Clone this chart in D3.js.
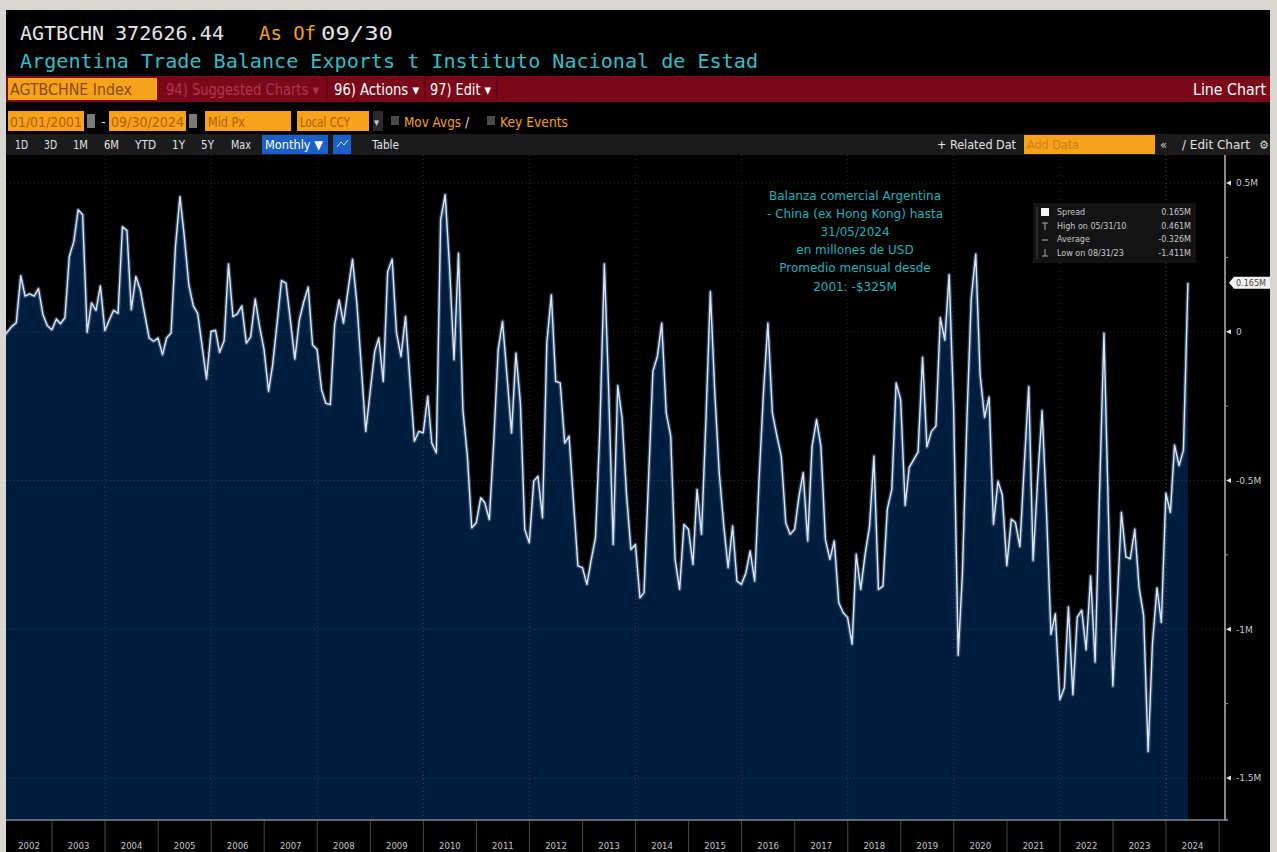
<!DOCTYPE html>
<html lang='en'>
<head>
<meta charset='UTF-8'>
<title>AGTBCHN Index - Line Chart</title>
<style>
  html, body { margin: 0; padding: 0; background: #d9d7d2; }
  svg { display: block; }
  .mono { font-family: 'DejaVu Sans Mono', 'Liberation Mono', monospace; }
  .ui { font-family: 'Liberation Sans Narrow', 'DejaVu Sans Condensed', 'Liberation Sans', sans-serif; font-stretch: condensed; }
  .note { font-family: 'DejaVu Sans', Verdana, sans-serif; font-size: 12px; fill: #1fb0b8; }
  .axis path, .axis line { display: none; }
  .axis text { font-family: 'DejaVu Sans', sans-serif; font-size: 9px; fill: #c9c9c9; }
</style>
<script src="https://d3js.org/d3.v7.min.js"></script>
</head>
<body>
<script>

// monthly trade balance Argentina - China, USD millions (shown as M), Jan 2002 .. May 2024
var startYear = 2002;
var balance = [
  -0.020, 0.000, 0.018, 0.030, 0.188, 0.120, 0.127, 0.120, 0.145, 0.057, 0.020, 0.007,       // 2002
  0.043, 0.027, 0.047, 0.253, 0.303, 0.410, 0.393, -0.002, 0.097, 0.072, 0.154, 0.004,      // 2003
  0.040, 0.072, 0.062, 0.353, 0.340, 0.074, 0.186, 0.141, 0.060, -0.021, -0.032, -0.021,     // 2004
  -0.077, -0.021, -0.004, 0.286, 0.454, 0.320, 0.158, 0.087, 0.062, -0.050, -0.159, 0.001,  // 2005
  0.005, -0.069, -0.030, 0.228, 0.051, 0.060, 0.087, -0.038, -0.017, 0.110, 0.018, -0.060,  // 2006
  -0.200, -0.111, 0.030, 0.172, 0.163, 0.040, -0.092, 0.040, 0.100, 0.150, -0.044, -0.060,  // 2007
  -0.195, -0.240, -0.245, 0.023, 0.107, 0.029, 0.140, 0.244, 0.096, -0.120, -0.335, -0.200, // 2008
  -0.066, -0.021, -0.167, 0.202, 0.244, -0.004, -0.083, 0.051, -0.160, -0.368, -0.335, -0.340, // 2009
  -0.217, -0.374, -0.407, 0.376, 0.461, 0.219, -0.094, 0.264, -0.262, -0.418, -0.659, -0.642, // 2010
  -0.558, -0.575, -0.631, -0.374, -0.060, 0.035, -0.150, -0.340, -0.072, -0.240, -0.664, -0.709, // 2011
  -0.502, -0.486, -0.625, -0.038, 0.124, -0.167, -0.172, -0.374, -0.351, -0.575, -0.787, -0.793, // 2012
  -0.849, -0.770, -0.692, -0.329, 0.228, -0.200, -0.715, -0.181, -0.290, -0.550, -0.732, -0.715, // 2013
  -0.894, -0.877, -0.500, -0.133, -0.083, 0.029, -0.273, -0.351, -0.765, -0.866, -0.648, -0.664, // 2014
  -0.782, -0.530, -0.681, -0.300, 0.135, -0.200, -0.474, -0.650, -0.793, -0.653, -0.838, -0.849, // 2015
  -0.810, -0.737, -0.838, -0.500, -0.200, 0.029, -0.273, -0.350, -0.418, -0.642, -0.681, -0.664, // 2016
  -0.550, -0.474, -0.703, -0.385, -0.295, -0.385, -0.698, -0.765, -0.703, -0.911, -0.944, -0.961, // 2017
  -1.050, -0.748, -0.866, -0.750, -0.653, -0.418, -0.866, -0.855, -0.597, -0.530, -0.172, -0.228, // 2018
  -0.584, -0.456, -0.430, -0.404, -0.086, -0.387, -0.335, -0.317, 0.047, -0.028, 0.192, -0.259,  // 2019
  -1.087, -0.815, -0.300, 0.111, 0.261, -0.144, -0.288, -0.219, -0.647, -0.502, -0.549, -0.786,  // 2020
  -0.630, -0.641, -0.722, -0.450, -0.184, -0.769, -0.500, -0.265, -0.600, -1.017, -0.948, -1.237, // 2021
  -1.197, -0.925, -1.220, -0.959, -0.936, -1.069, -0.821, -1.110, -0.550, -0.005, -0.600, -1.191, // 2022
  -0.900, -0.607, -0.757, -0.763, -0.664, -0.861, -0.954, -1.411, -1.046, -0.861, -0.977, -0.543, // 2023
  -0.607, -0.381, -0.450, -0.398, 0.165                                                          // 2024
];

var yearLabels = [2002, 2003, 2004, 2005, 2006, 2007, 2008, 2009, 2010, 2011, 2012, 2013,
                  2014, 2015, 2016, 2017, 2018, 2019, 2020, 2021, 2022, 2023, 2024];
var yTickValues = [0.5, 0, -0.5, -1, -1.5];
var yTickLabels = ['0.5M', '0', '-0.5M', '-1M', '-1.5M'];
var yMinorValues = [0.25, -0.25, -0.75, -1.25];
var legendLabels = ['Spread', 'High on 05/31/10', 'Average', 'Low on 08/31/23'];
var legendValues = ['0.165M', '0.461M', '-0.326M', '-1.411M'];
var lastLabel = '0.165M';
var noteLines = [
  'Balanza comercial Argentina',
  '- China (ex Hong Kong) hasta',
  '31/05/2024',
  'en millones de USD',
  'Promedio mensual desde',
  '2001: -$325M'
];

var W = 1277, H = 852;
var plot = { left: 6, right: 1225, top: 155, bottom: 820 };

var svg = d3.select('body').append('svg').attr('width', W).attr('height', H);
svg.append('rect').attr('width', W).attr('height', H).attr('fill', '#d9d7d2');
svg.append('rect').attr('x', 6).attr('y', 10).attr('width', 1264).attr('height', 842).attr('fill', '#000');

function txt(g, s, x, y, o) {
  o = o || {};
  var t = g.append('text').attr('x', x).attr('y', y).text(s)
    .attr('class', o.cls || 'ui')
    .attr('fill', o.fill || '#fff')
    .attr('font-size', o.size || 12);
  if (o.len) t.attr('textLength', o.len).attr('lengthAdjust', 'spacingAndGlyphs');
  if (o.anchor) t.attr('text-anchor', o.anchor);
  return t;
}
function box(g, x, y, w, h, fill) {
  return g.append('rect').attr('x', x).attr('y', y).attr('width', w).attr('height', h).attr('fill', fill);
}

// header

var head = svg.append('g');
txt(head, 'AGTBCHN', 20, 40, { cls: 'mono', size: 19.5, fill: '#e6e6e6', len: 84 });
txt(head, '372626.44', 115, 40, { cls: 'mono', size: 19.5, fill: '#e6e6e6', len: 109 });
txt(head, 'As Of', 259, 40, { cls: 'mono', size: 19.5, fill: '#f0a020', len: 57 });
txt(head, '09/30', 321, 40, { cls: 'mono', size: 19.5, fill: '#e6e6e6', len: 72 });
txt(head, 'Argentina Trade Balance Exports t Instituto Nacional de Estad', 20, 68,
  { cls: 'mono', size: 19.5, fill: '#38bcc4', len: 738 });

// red command bar

var bar = svg.append('g');
box(bar, 6, 76, 1264, 26, '#7b0819');
box(bar, 8, 78, 149, 22, '#f7a21b');
txt(bar, 'AGTBCHNE Index', 10, 95, { size: 15, fill: '#8a4800', len: 122 });
txt(bar, '94) Suggested Charts \u25BE', 166, 95, { size: 15, fill: '#b0344e', len: 153 });
txt(bar, '96) Actions \u25BE', 334, 95, { size: 15, fill: '#fff', len: 85 });
txt(bar, '97) Edit \u25BE', 430, 95, { size: 15, fill: '#fff', len: 61 });
txt(bar, 'Line Chart', 1266, 95, { size: 15, fill: '#fff', len: 73, anchor: 'end' });
[327, 425, 497].forEach(function (x) {
  bar.append('line').attr('x1', x).attr('x2', x).attr('y1', 78).attr('y2', 100).attr('stroke', '#4e0010');
});

// input row

var row = svg.append('g');
box(row, 8, 111, 76, 20, '#f7a21b');
box(row, 87, 114, 8, 14, '#7a7a7a');
txt(row, '-', 101, 127, { size: 14, fill: '#ddd' });
box(row, 109, 111, 77, 20, '#f7a21b');
box(row, 189, 114, 8, 14, '#7a7a7a');
box(row, 205, 111, 86, 20, '#f7a21b');
box(row, 297, 111, 72, 20, '#f7a21b');
box(row, 373, 111, 10, 20, '#2a2a2a');
txt(row, '\u25BE', 374, 126, { size: 11, fill: '#ccc' });
txt(row, '01/01/2001', 10, 127, { size: 14, fill: '#b06000', len: 72 });
txt(row, '09/30/2024', 111, 127, { size: 14, fill: '#b06000', len: 73 });
txt(row, 'Mid Px', 208, 127, { size: 14, fill: '#b06000', len: 37 });
txt(row, 'Local CCY', 300, 127, { size: 14, fill: '#b06000', len: 50 });
box(row, 391, 116, 8, 9, '#4a4a4a');
txt(row, 'Mov Avgs', 404, 127, { size: 14, fill: '#f0a020', len: 57 });
txt(row, '/', 465, 127, { size: 14, fill: '#ddd' });
box(row, 487, 116, 8, 9, '#4a4a4a');
txt(row, 'Key Events', 500, 127, { size: 14, fill: '#f0a020', len: 68 });

// range buttons row

var tools = svg.append('g');
box(tools, 6, 134, 1264, 21, '#1b1b1b');
[['1D', 15, 13], ['3D', 44, 13], ['1M', 73, 15], ['6M', 104, 15], ['YTD', 135, 21],
 ['1Y', 172, 13], ['5Y', 201, 13], ['Max', 231, 20]].forEach(function (b) {
  txt(tools, b[0], b[1], 149, { size: 12, fill: '#e2e2e2', len: b[2] });
});
box(tools, 262, 135, 66, 19, '#1b5fc9');
txt(tools, 'Monthly \u25BC', 265, 149, { size: 12, fill: '#fff', len: 58 });
box(tools, 333, 135, 18, 19, '#1b5fc9');
tools.append('path').attr('d', 'M337,147 L341,142 L344,145 L348,140').attr('fill', 'none').attr('stroke', '#dfe8ff');
txt(tools, 'Table', 372, 149, { size: 12, fill: '#e2e2e2', len: 27 });
txt(tools, '+ Related Dat', 937, 149, { size: 12, fill: '#e2e2e2', len: 79 });
box(tools, 1024, 135, 131, 19, '#f7a21b');
txt(tools, 'Add Data', 1027, 149, { size: 12, fill: '#c97f20', len: 52 });
txt(tools, '\u00AB', 1160, 149, { size: 13, fill: '#ccc' });
txt(tools, '/ Edit Chart', 1182, 149, { size: 12, fill: '#e2e2e2', len: 68 });
txt(tools, '\u2699', 1259, 149, { size: 12, fill: '#ddd' });

// scales

var data = balance.map(function (v, i) {
  return { date: new Date(startYear, i + 1, 0), value: v };
});

var x = d3.scaleTime()
  .domain([new Date(2003, 0, 1), new Date(2024, 0, 1)])
  .range([52, 1166]);
var y = d3.scaleLinear().domain([0.5, -1.5]).range([183, 778]);

svg.append('clipPath').attr('id', 'plotclip')
  .append('rect').attr('x', plot.left).attr('y', plot.top)
  .attr('width', plot.right - plot.left).attr('height', plot.bottom - plot.top);

var g = svg.append('g').attr('clip-path', 'url(#plotclip)');

var area = d3.area()
  .x(function (d) { return x(d.date); })
  .y0(plot.bottom)
  .y1(function (d) { return y(d.value); });
var line = d3.line()
  .x(function (d) { return x(d.date); })
  .y(function (d) { return y(d.value); });

g.append('path').datum(data).attr('d', area).attr('fill', '#011d3b');

// dotted grid

var evenYears = yearLabels.filter(function (yr) { return yr % 2 === 0; }).concat([2024]);
g.selectAll('.vgrid')
  .data(evenYears)
  .enter().append('line')
  .attr('class', 'vgrid')
  .attr('x1', function (d) { return x(new Date(d, 0, 1)); })
  .attr('x2', function (d) { return x(new Date(d, 0, 1)); })
  .attr('y1', plot.top).attr('y2', plot.bottom)
  .attr('stroke', '#ffffff').attr('stroke-opacity', 0.16)
  .attr('stroke-dasharray', '1,3');
g.selectAll('.hgrid')
  .data(yTickValues)
  .enter().append('line')
  .attr('class', 'hgrid')
  .attr('x1', plot.left).attr('x2', plot.right)
  .attr('y1', function (d) { return y(d); })
  .attr('y2', function (d) { return y(d); })
  .attr('stroke', '#ffffff').attr('stroke-opacity', 0.18)
  .attr('stroke-dasharray', '1,3');

// line with soft glow

g.append('path').datum(data).attr('d', line)
  .attr('fill', 'none').attr('stroke', '#5d8fc4').attr('stroke-opacity', 0.45)
  .attr('stroke-width', 4).attr('stroke-linejoin', 'round');
g.append('path').datum(data).attr('d', line)
  .attr('fill', 'none').attr('stroke', '#dfe6ee')
  .attr('stroke-width', 1.4).attr('stroke-linejoin', 'round');

// right axis

svg.append('line')
  .attr('x1', plot.right).attr('x2', plot.right)
  .attr('y1', plot.top).attr('y2', plot.bottom + 1)
  .attr('stroke', '#b5b5b5').attr('stroke-width', 1.5);
svg.append('line')
  .attr('x1', plot.left).attr('x2', plot.right + 3)
  .attr('y1', plot.bottom).attr('y2', plot.bottom)
  .attr('stroke', '#7d8c9c').attr('stroke-width', 1.5);

svg.append('g')
  .attr('class', 'axis')
  .attr('transform', 'translate(' + plot.right + ',0)')
  .call(d3.axisRight(y).tickValues(yTickValues).tickSize(0).tickPadding(11)
    .tickFormat(function (d, i) { return yTickLabels[i]; }));

svg.selectAll('.ytri')
  .data(yTickValues)
  .enter().append('path')
  .attr('class', 'ytri')
  .attr('d', function (d) {
    var yy = y(d);
    return 'M' + (plot.right + 1) + ',' + yy + 'L' + (plot.right + 6) + ',' + (yy - 2.5) +
      'L' + (plot.right + 6) + ',' + (yy + 2.5) + 'Z';
  })
  .attr('fill', '#e0e0e0');
svg.selectAll('.yminor')
  .data(yMinorValues)
  .enter().append('line')
  .attr('class', 'yminor')
  .attr('x1', plot.right + 1).attr('x2', plot.right + 3)
  .attr('y1', function (d) { return y(d); })
  .attr('y2', function (d) { return y(d); })
  .attr('stroke', '#999');

// last value tag

var last = data[data.length - 1];
var ty = y(last.value);
svg.append('path')
  .attr('d', 'M' + (plot.right + 4) + ',' + ty + 'L' + (plot.right + 9) + ',' + (ty - 6) +
    'L1270,' + (ty - 6) + 'L1270,' + (ty + 6) + 'L' + (plot.right + 9) + ',' + (ty + 6) + 'Z')
  .attr('fill', '#f2f2f2');
txt(svg, lastLabel, plot.right + 11, ty + 3, { cls: 'ui', size: 8.5, fill: '#444', len: 30 });

// year axis

var xa = svg.append('g');
var bounds = yearLabels.slice(1).concat([2025]);
xa.selectAll('.sep')
  .data(bounds)
  .enter().append('line')
  .attr('class', 'sep')
  .attr('x1', function (d) { return x(new Date(d, 0, 1)); })
  .attr('x2', function (d) { return x(new Date(d, 0, 1)); })
  .attr('y1', plot.bottom + 1).attr('y2', H)
  .attr('stroke', '#4a4a4a');
xa.selectAll('.yl')
  .data(yearLabels)
  .enter().append('text')
  .attr('class', 'yl')
  .attr('x', function (d) {
    var a = Math.max(plot.left, x(new Date(d, 0, 1)));
    var b = Math.min(plot.right, x(new Date(d + 1, 0, 1)));
    return (a + b) / 2;
  })
  .attr('y', 849)
  .attr('text-anchor', 'middle')
  .attr('font-family', "'DejaVu Sans', sans-serif")
  .attr('font-size', 8.5)
  .attr('fill', '#c6c6c6')
  .text(function (d) { return d; });

// legend box

var lg = svg.append('g').attr('transform', 'translate(1033,203)');
lg.append('rect').attr('width', 163).attr('height', 60).attr('fill', '#131313');
lg.append('line').attr('x1', 4).attr('x2', 4).attr('y1', 4).attr('y2', 56).attr('stroke', '#444');
lg.append('rect').attr('x', 8).attr('y', 5).attr('width', 8).attr('height', 8).attr('fill', '#f4f4f4');
lg.append('path').attr('d', 'M9,20 L15,20 M12,20 L12,27').attr('stroke', '#aaa');
lg.append('path').attr('d', 'M9,37 L15,37').attr('stroke', '#aaa');
lg.append('path').attr('d', 'M12,46 L12,53 M9,53 L15,53').attr('stroke', '#aaa');
lg.selectAll('.ll')
  .data(legendLabels)
  .enter().append('text')
  .attr('class', 'll')
  .attr('x', 24)
  .attr('y', function (d, i) { return 12 + i * 13.5; })
  .attr('font-family', "'DejaVu Sans', sans-serif")
  .attr('font-size', 8)
  .attr('fill', '#c8c8c8')
  .text(function (d) { return d; });
lg.selectAll('.lv')
  .data(legendValues)
  .enter().append('text')
  .attr('class', 'lv')
  .attr('x', 158)
  .attr('y', function (d, i) { return 12 + i * 13.5; })
  .attr('text-anchor', 'end')
  .attr('font-family', "'DejaVu Sans', sans-serif")
  .attr('font-size', 8)
  .attr('fill', '#c8c8c8')
  .text(function (d) { return d; });

// note

svg.selectAll('.note')
  .data(noteLines)
  .enter().append('text')
  .attr('class', 'note')
  .attr('x', 855)
  .attr('y', function (d, i) { return 200 + i * 18.1; })
  .attr('text-anchor', 'middle')
  .text(function (d) { return d; });

</script>
</body>
</html>
